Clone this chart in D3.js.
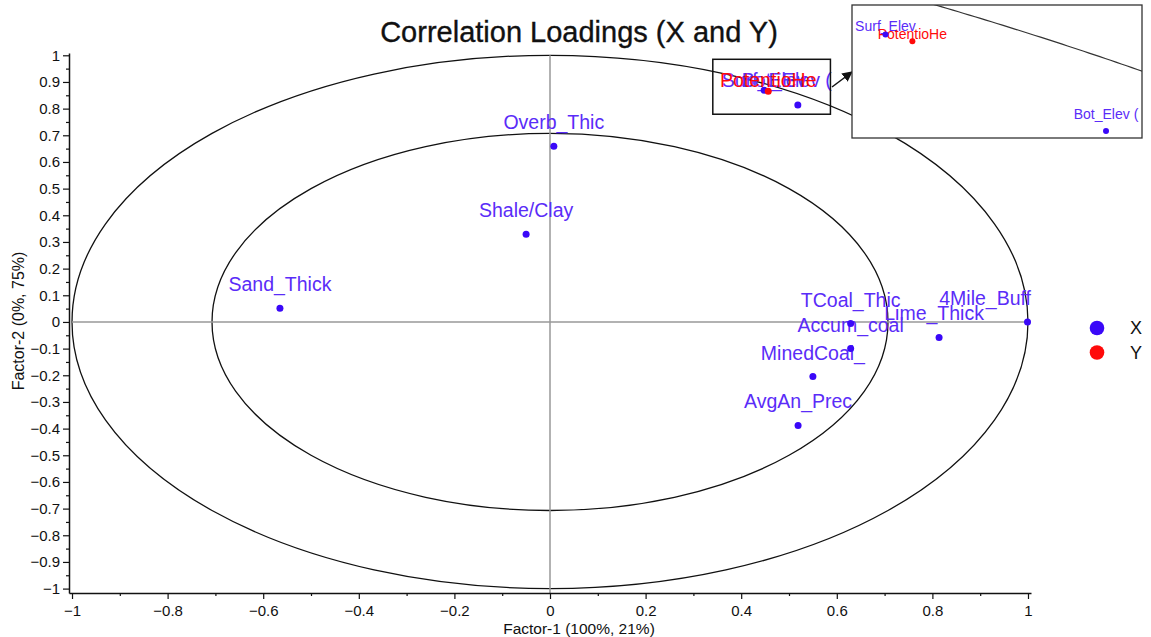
<!DOCTYPE html>
<html>
<head>
<meta charset="utf-8">
<script src="https://cdn.jsdelivr.net/npm/d3@7"></script>
<style>
  body { margin: 0; background: #fff; }
  svg { font-family: "Liberation Sans", Arial, sans-serif; }
</style>
</head>
<body>
<div id="chart"></div>
<script>
// -----------------------------------------//
//                 Data
// -----------------------------------------//

// X loadings (blue)
var xNames = ["Sand_Thick", "Shale/Clay", "Overb_Thic", "TCoal_Thic", "Accum_coal",
              "MinedCoal_", "AvgAn_Prec", "Lime_Thick", "4Mile_Buff", "Surf_Elev", "Bot_Elev ("];
var xFactor1 = [-0.565, -0.050, 0.008, 0.629, 0.629, 0.550, 0.519, 0.814, 0.999, 0.448, 0.5185];
var xFactor2 = [0.051, 0.329, 0.659, -0.006, -0.100, -0.205, -0.388, -0.058, 0.000, 0.869, 0.8137];

// Y loadings (red)
var yNames = ["PotentioHe"];
var yFactor1 = [0.4566];
var yFactor2 = [0.8651];

var xTicks = [-1, -0.8, -0.6, -0.4, -0.2, 0, 0.2, 0.4, 0.6, 0.8, 1];
var yTicks = [-1, -0.9, -0.8, -0.7, -0.6, -0.5, -0.4, -0.3, -0.2, -0.1, 0,
              0.1, 0.2, 0.3, 0.4, 0.5, 0.6, 0.7, 0.8, 0.9, 1];

var seriesNames = ["X", "Y"];

// -----------------------------------------//
//              SVG setup
// -----------------------------------------//

var svgWidth = 1151, svgHeight = 637;
var blue = "#3a08f8", blueText = "#5a2cf8", red = "#ff0a0a";

var svg = d3.select("#chart").append("svg")
  .attr("width", svgWidth)
  .attr("height", svgHeight);

var xScale = d3.scaleLinear().domain([-1.0063, 1.0063]).range([69, 1031]);
var yScale = d3.scaleLinear().domain([-1.0165, 1.0086]).range([593, 53]);

var points = xNames.map(function(n, i) {
  return { name: n, f1: xFactor1[i], f2: xFactor2[i], kind: "X" };
}).concat(yNames.map(function(n, i) {
  return { name: n, f1: yFactor1[i], f2: yFactor2[i], kind: "Y" };
}));

// label nudges (px) for the crowded ones
var mainDy = { "Surf_Elev": -3, "PotentioHe": -4, "Bot_Elev (": -18 };
var mainDx = { "Bot_Elev (": -11, "Lime_Thick": -5 };
var insetDy = { "Surf_Elev": -3, "PotentioHe": -2, "Bot_Elev (": -12 };

// title
svg.append("text")
  .attr("x", 579).attr("y", 42)
  .attr("text-anchor", "middle")
  .style("font-size", "29px")
  .attr("fill", "#111").attr("stroke", "#111").attr("stroke-width", 0.35)
  .text("Correlation Loadings (X and Y)");

// ellipses (unit circle and sqrt(0.5))
[1, Math.SQRT1_2].forEach(function(r) {
  svg.append("ellipse")
    .attr("cx", xScale(0)).attr("cy", yScale(0))
    .attr("rx", xScale(r) - xScale(0))
    .attr("ry", yScale(0) - yScale(r))
    .attr("fill", "none").attr("stroke", "#111").attr("stroke-width", 1.3);
});

// zero lines
svg.append("line")
  .attr("x1", xScale(-1)).attr("x2", xScale(1))
  .attr("y1", yScale(0)).attr("y2", yScale(0))
  .attr("stroke", "#999").attr("stroke-width", 1.5);
svg.append("line")
  .attr("x1", xScale(0)).attr("x2", xScale(0))
  .attr("y1", yScale(1)).attr("y2", yScale(-1.0165))
  .attr("stroke", "#999").attr("stroke-width", 1.5);

// axes
var xAxis = svg.append("g")
  .attr("transform", "translate(0, 593)")
  .call(d3.axisBottom(xScale).tickValues(xTicks).tickSize(6).tickSizeOuter(0).tickFormat(d3.format("")));
var xMinor = svg.append("g")
  .attr("transform", "translate(0, 593)")
  .call(d3.axisBottom(xScale).tickValues(d3.range(-0.9, 1, 0.2)).tickSize(3).tickFormat(""));
xMinor.select(".domain").remove();

var yAxis = svg.append("g")
  .attr("transform", "translate(69, 0)")
  .call(d3.axisLeft(yScale).tickValues(yTicks).tickSize(6).tickSizeOuter(0).tickFormat(d3.format("")));
var yMinor = svg.append("g")
  .attr("transform", "translate(69, 0)")
  .call(d3.axisLeft(yScale).tickValues(d3.range(-0.95, 1, 0.1)).tickSize(3).tickFormat(""));
yMinor.select(".domain").remove();

svg.selectAll(".domain").attr("stroke", "#111").attr("stroke-width", 1.5);
svg.selectAll(".tick line").attr("stroke", "#111").attr("stroke-width", 1.2);
svg.selectAll(".tick text").style("font-size", "15px").attr("fill", "#111")
  .style("font-family", "Liberation Sans, Arial, sans-serif");
xAxis.selectAll(".tick text").attr("dy", "0.9em");

// axis titles
svg.append("text")
  .attr("x", 579).attr("y", 634)
  .attr("text-anchor", "middle")
  .style("font-size", "15.5px").attr("fill", "#111")
  .text("Factor-1 (100%, 21%)");
svg.append("text")
  .attr("transform", "translate(24, 321) rotate(-90)")
  .attr("text-anchor", "middle")
  .style("font-size", "16px").attr("fill", "#111")
  .text("Factor-2 (0%, 75%)");

// labels
var labels = svg.append("g").selectAll("text")
  .data(points)
  .enter()
  .append("text")
  .attr("x", d => xScale(d.f1) + (mainDx[d.name] || 0))
  .attr("y", d => yScale(d.f2) + (mainDy[d.name] !== undefined ? mainDy[d.name] : -17))
  .attr("text-anchor", "middle")
  .style("font-size", "19.5px")
  .attr("fill", d => d.kind === "X" ? blueText : red)
  .text(d => d.name);

// keep labels inside the plot on the right
labels.each(function(d) {
  var w = this.getComputedTextLength();
  var cx = +d3.select(this).attr("x");
  if (cx + w / 2 > 1031) d3.select(this).attr("x", 1031 - w / 2);
});

// points
svg.append("g").selectAll("circle")
  .data(points)
  .enter()
  .append("circle")
  .attr("cx", d => xScale(d.f1))
  .attr("cy", d => yScale(d.f2))
  .attr("r", 3.5)
  .attr("fill", d => d.kind === "X" ? blue : red);

// -----------------------------------------//
//           Zoom box and inset
// -----------------------------------------//

var zoomBox = { x0: 0.3406, x1: 0.5867, y0: 0.779, y1: 0.985 };
svg.append("rect")
  .attr("x", xScale(zoomBox.x0)).attr("y", yScale(zoomBox.y1))
  .attr("width", xScale(zoomBox.x1) - xScale(zoomBox.x0))
  .attr("height", yScale(zoomBox.y0) - yScale(zoomBox.y1))
  .attr("fill", "none").attr("stroke", "#111").attr("stroke-width", 1.5);

svg.append("defs").append("marker")
  .attr("id", "arrow")
  .attr("viewBox", "0 0 10 10")
  .attr("refX", 9).attr("refY", 5)
  .attr("markerWidth", 7).attr("markerHeight", 7)
  .attr("orient", "auto")
  .append("path").attr("d", "M0,0 L10,5 L0,10 z").attr("fill", "#111");

svg.append("line")
  .attr("x1", 832).attr("y1", 87)
  .attr("x2", 852).attr("y2", 72)
  .attr("stroke", "#111").attr("stroke-width", 1.5)
  .attr("marker-end", "url(#arrow)");

var inset = { left: 852, top: 5, width: 290, height: 133 };
var ix = d3.scaleLinear().domain([0.4373, 0.5300]).range([inset.left, inset.left + inset.width]);
var iy = d3.scaleLinear().domain([0.88585, 0.80972]).range([inset.top, inset.top + inset.height]);

svg.select("defs").append("clipPath").attr("id", "insetClip")
  .append("rect")
  .attr("x", inset.left).attr("y", inset.top)
  .attr("width", inset.width).attr("height", inset.height);

svg.append("rect")
  .attr("x", inset.left).attr("y", inset.top)
  .attr("width", inset.width).attr("height", inset.height)
  .attr("fill", "#fff");

var insetG = svg.append("g").attr("clip-path", "url(#insetClip)");

// unit circle arc seen through the inset
var arcAngles = d3.range(0.95, 1.2, 0.002);
insetG.append("path")
  .attr("d", d3.line().x(t => ix(Math.cos(t))).y(t => iy(Math.sin(t)))(arcAngles))
  .attr("fill", "none").attr("stroke", "#333").attr("stroke-width", 1.2);

var insetPts = points.filter(d => insetDy[d.name] !== undefined);

insetG.selectAll("text.inset")
  .data(insetPts)
  .enter()
  .append("text")
  .attr("x", d => ix(d.f1))
  .attr("y", d => iy(d.f2) + insetDy[d.name])
  .attr("text-anchor", "middle")
  .style("font-size", "14px")
  .attr("fill", d => d.kind === "X" ? blueText : red)
  .text(d => d.name);

insetG.selectAll("circle")
  .data(insetPts)
  .enter()
  .append("circle")
  .attr("cx", d => ix(d.f1))
  .attr("cy", d => iy(d.f2))
  .attr("r", 3)
  .attr("fill", d => d.kind === "X" ? blue : red);

svg.append("rect")
  .attr("x", inset.left).attr("y", inset.top)
  .attr("width", inset.width).attr("height", inset.height)
  .attr("fill", "none").attr("stroke", "#333").attr("stroke-width", 1.3);

// -----------------------------------------//
//                Legend
// -----------------------------------------//

var legend = svg.append("g").selectAll("g")
  .data(seriesNames)
  .enter()
  .append("g")
  .attr("transform", (d, i) => `translate(1097, ${328 + i * 24.5})`);

legend.append("circle")
  .attr("r", 7.3)
  .attr("fill", (d, i) => i === 0 ? blue : red);

legend.append("text")
  .attr("x", 33).attr("dy", "0.35em")
  .attr("text-anchor", "start")
  .style("font-size", "18px").attr("fill", "#111")
  .text(d => d);
</script>
</body>
</html>
